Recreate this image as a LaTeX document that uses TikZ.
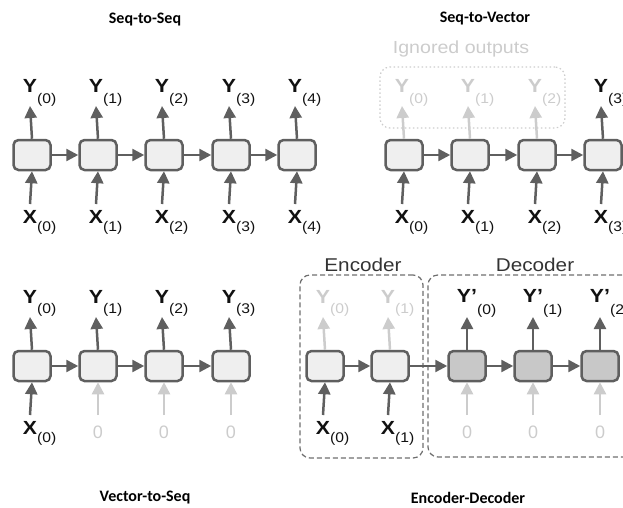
\documentclass[tikz,border=0pt]{standalone}
\usepackage{fontspec}
\setmainfont{Liberation Sans}
\newfontfamily\ttlfont{Carlito}
\usetikzlibrary{arrows.meta}
\definecolor{linec}{HTML}{5F5F5F}
\definecolor{cellfill}{HTML}{EFEFEF}
\definecolor{decfill}{HTML}{C8C8C8}
\definecolor{ghost}{HTML}{CCCCCC}
\definecolor{textc}{HTML}{111111}
\definecolor{boxc}{HTML}{6E6E6E}
\definecolor{headc}{HTML}{333333}
\newcommand\wide[1]{\scalebox{1.12}[1]{#1}}
\newcommand\vlab[3]{\wide{\fontsize{19}{19}\selectfont\bfseries #1}\rlap{\raisebox{#3}{\wide{\fontsize{14}{14}\selectfont(#2)}}}}
\tikzset{
  cell/.style={draw=linec, line width=2.5pt, fill=cellfill, rounded corners=5pt,
    minimum width=37pt, minimum height=30pt, inner sep=0pt},
  dcell/.style={cell, fill=decfill},
  arr/.style={draw=linec, line width=2.5pt, -{Triangle[length=12pt,width=12pt]}},
  garr/.style={arr, draw=ghost},
  lab/.style={anchor=base, inner sep=0pt, text=textc},
  glab/.style={lab, text=ghost},
  zlab/.style={anchor=base, inner sep=0pt, text=ghost, font=\fontsize{18}{18}\selectfont},
  ttl/.style={anchor=center, inner sep=0pt, text=black, font=\ttlfont\bfseries\fontsize{16}{16}\selectfont},
  head/.style={anchor=base, inner sep=0pt, text=headc, font=\fontsize{18.5}{18.5}\selectfont},
  encbox/.style={draw=boxc, line width=1.2pt, dash pattern=on 5pt off 3pt, rounded corners=10pt},
  ignbox/.style={draw=ghost, line width=1.2pt, dash pattern=on 1.5pt off 2.5pt, rounded corners=10pt},
}
\begin{document}
\begin{tikzpicture}[x=1pt,y=-1pt]
\useasboundingbox (0,0) rectangle (623,508);
\clip (0,0) rectangle (623,508);

% ---------- titles
\node[ttl] (t1) at (145,20) {Seq-to-Seq};
\node[ttl] (t2) at (485,19) {Seq-to-Vector};
\node[ttl] (t3) at (145,498) {Vector-to-Seq};
\node[ttl] (t4) at (468,498) {Encoder-Decoder};

% ---------- Seq-to-Seq
\foreach \i/\x in {0/32,1/98,2/164,3/231,4/297} {
  \node[cell] (a\i) at (\x,155) {};
  \node[lab] (ay\i) at (\x-2,93) {\vlab{Y}{\i}{-10pt}};
  \node[lab] (ax\i) at (\x-2,223) {\vlab{X}{\i}{-8.5pt}};
  \draw[arr] (a\i.north) -- ([yshift=-13pt]ay\i.base);
  \draw[arr] ([yshift=19pt]ax\i.base) -- (a\i.south);
}
\foreach \i/\j in {0/1,1/2,2/3,3/4} \draw[arr] (a\i.east) -- (a\j.west);

% ---------- Seq-to-Vector
\node[ignbox, minimum width=185pt, minimum height=61pt, inner sep=0pt] (ign) at (472.5,97.5) {};
\node[anchor=base, inner sep=0pt, text=ghost, font=\fontsize{17.5}{17.5}\selectfont] (igt) at (461,54) {\wide{Ignored outputs}};
\foreach \i/\x in {0/404,1/470,2/537,3/603} {
  \node[cell] (b\i) at (\x,155) {};
  \node[lab] (bx\i) at (\x-2,223) {\vlab{X}{\i}{-8.5pt}};
  \draw[arr] ([yshift=19pt]bx\i.base) -- (b\i.south);
}
\foreach \i/\x in {0/404,1/470,2/537} {
  \node[glab] (by\i) at (\x-2,93) {\vlab{Y}{\i}{-10pt}};
  \draw[garr] (b\i.north) -- ([yshift=-13pt]by\i.base);
}
\node[lab] (by3) at (601,93) {\vlab{Y}{3}{-10pt}};
\draw[arr] (b3.north) -- ([yshift=-13pt]by3.base);
\foreach \i/\j in {0/1,1/2,2/3} \draw[arr] (b\i.east) -- (b\j.west);

% ---------- Vector-to-Seq
\foreach \i/\x in {0/32,1/98,2/164,3/231} {
  \node[cell] (c\i) at (\x,366) {};
  \node[lab] (cy\i) at (\x-2,303) {\vlab{Y}{\i}{-10pt}};
  \draw[arr] (c\i.north) -- ([yshift=-14pt]cy\i.base);
}
\node[lab] (cx0) at (30,434) {\vlab{X}{0}{-8.5pt}};
\draw[arr] ([yshift=19pt]cx0.base) -- (c0.south);
\foreach \i/\x in {1/98,2/164,3/231} {
  \node[zlab] (cz\i) at (\x,438) {0};
  \draw[garr] ([yshift=23pt]cz\i.base) -- (c\i.south);
}
\foreach \i/\j in {0/1,1/2,2/3} \draw[arr] (c\i.east) -- (c\j.west);

% ---------- Encoder-Decoder
\node[encbox, minimum width=123pt, minimum height=183pt, inner sep=0pt] (enc) at (361.5,366.5) {};
\node[encbox, minimum width=212pt, minimum height=182pt, inner sep=0pt] (dec) at (534,366) {};
\node[head] (enct) at (363,271) {\wide{Encoder}};
\node[head] (dect) at (535,271) {\wide{Decoder}};
\foreach \i/\x in {0/325,1/390} {
  \node[cell] (e\i) at (\x,366) {};
  \node[glab] (ey\i) at (\x-2,303) {\vlab{Y}{\i}{-10pt}};
  \node[lab] (ex\i) at (\x-2,434) {\vlab{X}{\i}{-8.5pt}};
  \draw[garr] (e\i.north) -- ([yshift=-14pt]ey\i.base);
  \draw[arr] ([yshift=19pt]ex\i.base) -- (e\i.south);
}
\foreach \i/\x in {0/467,1/533,2/600} {
  \node[dcell] (d\i) at (\x,366) {};
  \node[lab] (dy\i) at (\x,302) {\vlab{Y’}{\i}{-12pt}};
  \node[zlab] (dz\i) at (\x,438) {0};
  \draw[arr] (d\i.north) -- ([yshift=-15pt]dy\i.base);
  \draw[garr] ([yshift=23pt]dz\i.base) -- (d\i.south);
}
\draw[arr] (e0.east) -- (e1.west);
\draw[arr] (e1.east) -- (d0.west);
\foreach \i/\j in {0/1,1/2} \draw[arr] (d\i.east) -- (d\j.west);
\end{tikzpicture}
\end{document}
